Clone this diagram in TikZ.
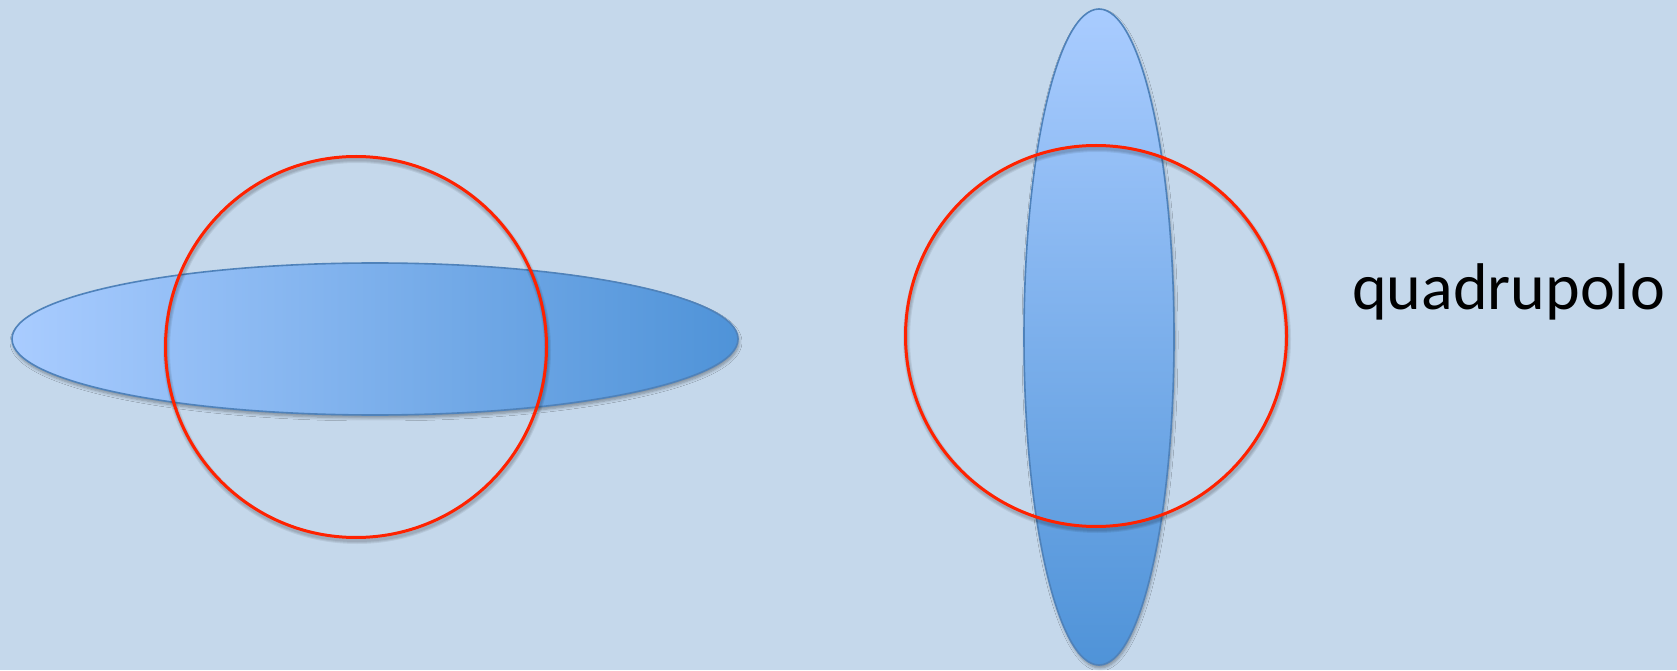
\documentclass[tikz,border=0pt]{standalone}
\usepackage{fontspec}
\setmainfont{Carlito}
\usetikzlibrary{shadows,shadows.blur}
\definecolor{bg}{HTML}{C5D8EB}
\definecolor{elllight}{HTML}{A9CCFF}
\definecolor{elldark}{HTML}{4F93D8}
\definecolor{ellline}{HTML}{4F82BA}
\definecolor{ring}{HTML}{FF2200}
\tikzset{
  beam/.style={draw=ellline, line width=1.6pt,
    blur shadow={shadow xshift=1pt, shadow yshift=-3pt, shadow blur steps=6, shadow blur radius=3pt, shadow opacity=35}},
  ringstyle/.style={draw=ring, line width=3pt, circle, minimum size=381pt, inner sep=0pt},
  ringshadow/.style={draw=black, line width=#1, draw opacity=0.07},
}
\begin{document}
\begin{tikzpicture}[x=1pt,y=1pt]
\fill[bg] (0,0) rectangle (1677,670);
\useasboundingbox (0,0) rectangle (1677,670);
% left: horizontal beam
\path[beam, left color=elllight, right color=elldark] (375,331) ellipse [x radius=363, y radius=76];
\coordinate (s1) at (357,320);
\foreach \w in {3pt,5pt,7pt} {\draw[ringshadow=\w] (s1) circle (190.5);}
\node[ringstyle] (c1) at (356,323) {};
% right: vertical beam
\path[beam, top color=elllight, bottom color=elldark] (1099,333) ellipse [x radius=75, y radius=328];
\coordinate (s2) at (1097,331);
\foreach \w in {3pt,5pt,7pt} {\draw[ringshadow=\w] (s2) circle (190.5);}
\node[ringstyle] (c2) at (1096,334) {};
\node[anchor=base west, inner sep=0pt, font=\fontsize{66}{72}\selectfont] (lbl) at (1352,360) {quadrupolo};
\end{tikzpicture}
\end{document}
